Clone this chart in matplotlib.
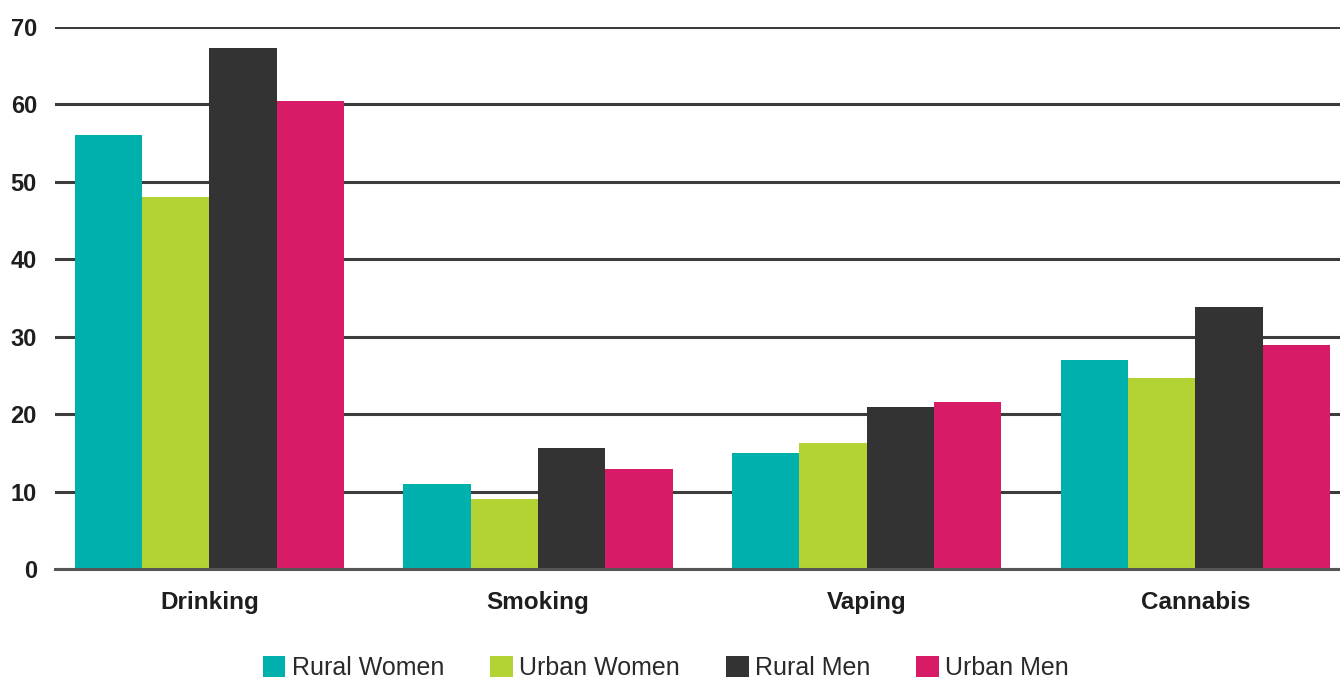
import matplotlib
matplotlib.use("Agg")
import matplotlib.pyplot as plt
from matplotlib.patches import Patch
import numpy as np

plt.rcParams['font.family'] = ['Liberation Sans', 'DejaVu Sans']

categories = ["Drinking", "Smoking", "Vaping", "Cannabis"]
series_names = ["Rural Women", "Urban Women", "Rural Men", "Urban Men"]
rural_women = [56, 11, 15, 27]
urban_women = [48, 9, 16.3, 24.7]
rural_men = [67.3, 15.6, 20.9, 33.9]
urban_men = [60.4, 12.9, 21.6, 28.9]
y_ticks = [0, 10, 20, 30, 40, 50, 60, 70]

colors = ["#00b0ad", "#b3d335", "#333333", "#d81b67"]
series = [rural_women, urban_women, rural_men, urban_men]

fig = plt.figure(figsize=(13.4, 6.8), dpi=100)
ax = fig.add_axes([55 / 1340, 1 - 569 / 680, 1 - 55 / 1340, (569 - 27) / 680])

x = np.arange(len(categories))
width = 0.205
offsets = (np.arange(len(series)) - 1.5) * width
for vals, off, col in zip(series, offsets, colors):
    ax.bar(x + off, vals, width=width, color=col, linewidth=0, zorder=3)

ax.set_xlim(-0.47, 3.44)
ax.set_ylim(0, 70)
ax.set_yticks(y_ticks)
ax.set_yticklabels([str(t) for t in y_ticks], fontsize=17, fontweight='bold', color='#1e1e1e')
ax.set_xticks(x)
ax.set_xticklabels(categories, fontsize=17.5, fontweight='bold', color='#1e1e1e')
ax.tick_params(axis='both', length=0)
ax.tick_params(axis='y', pad=13)
ax.tick_params(axis='x', pad=16)
ax.yaxis.grid(True, color='#3c3c3c', linewidth=2.2, zorder=1)
ax.axhline(0, color='#555555', linewidth=2.2, zorder=4, clip_on=False)
ax.set_axisbelow(True)
for s in ax.spines.values():
    s.set_visible(False)

handles = [Patch(facecolor=c, edgecolor='none') for c in colors]
fig.legend(handles, series_names, loc='center', bbox_to_anchor=(0.497, 1 - 668 / 680),
           ncol=4, frameon=False, fontsize=18, handlelength=0.9, handleheight=0.9,
           handletextpad=0.25, columnspacing=1.85, labelcolor='#2a2a2a',
           borderpad=0)

fig.savefig("out.png", dpi=100, facecolor='white')
